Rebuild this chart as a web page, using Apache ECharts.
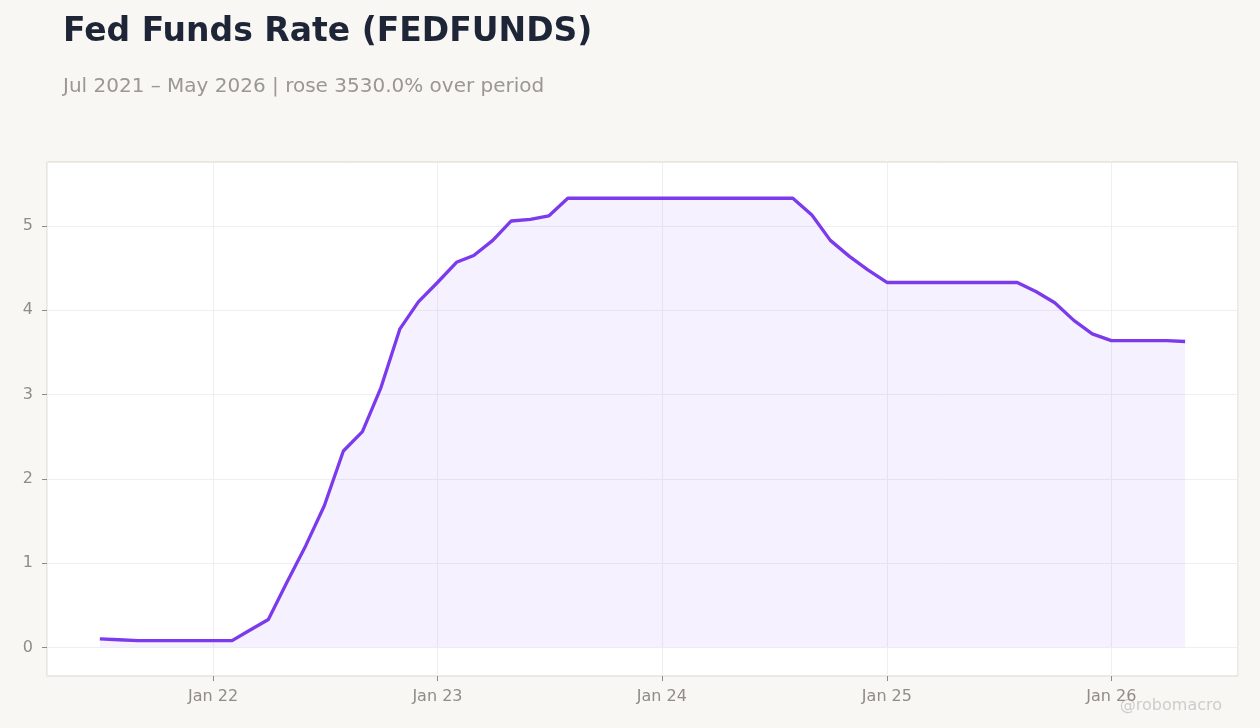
<!DOCTYPE html>
<html>
<head>
<meta charset="UTF-8">
<title>Fed Funds Rate</title>
<style>
  html, body { margin: 0; padding: 0; background: #f8f7f4; }
  #box { width: 1260px; height: 728px; }
</style>
</head>
<body>
<div id="box"></div>
<script src="https://cdn.jsdelivr.net/npm/echarts@6/dist/echarts.min.js"></script>
<script>
// monthly observations, Jul 2021 .. May 2026
const months = [
  '2021-07', '2021-08', '2021-09', '2021-10', '2021-11', '2021-12',
  '2022-01', '2022-02', '2022-03', '2022-04', '2022-05', '2022-06',
  '2022-07', '2022-08', '2022-09', '2022-10', '2022-11', '2022-12',
  '2023-01', '2023-02', '2023-03', '2023-04', '2023-05', '2023-06',
  '2023-07', '2023-08', '2023-09', '2023-10', '2023-11', '2023-12',
  '2024-01', '2024-02', '2024-03', '2024-04', '2024-05', '2024-06',
  '2024-07', '2024-08', '2024-09', '2024-10', '2024-11', '2024-12',
  '2025-01', '2025-02', '2025-03', '2025-04', '2025-05', '2025-06',
  '2025-07', '2025-08', '2025-09', '2025-10', '2025-11', '2025-12',
  '2026-01', '2026-02', '2026-03', '2026-04', '2026-05'
];
const rates = [
  0.10, 0.09, 0.08, 0.08, 0.08, 0.08,
  0.08, 0.08, 0.20, 0.33, 0.77, 1.21,
  1.68, 2.33, 2.56, 3.08, 3.78, 4.10,
  4.33, 4.57, 4.65, 4.83, 5.06, 5.08,
  5.12, 5.33, 5.33, 5.33, 5.33, 5.33,
  5.33, 5.33, 5.33, 5.33, 5.33, 5.33,
  5.33, 5.33, 5.13, 4.83, 4.64, 4.48,
  4.33, 4.33, 4.33, 4.33, 4.33, 4.33,
  4.33, 4.33, 4.22, 4.09, 3.88, 3.72,
  3.64, 3.64, 3.64, 3.64, 3.63
];
const yTicks = [0, 1, 2, 3, 4, 5];

const titleText = 'Fed Funds Rate (FEDFUNDS)';
const subText = 'Jul 2021 \u2013 May 2026 | rose 3530.0% over period';

function toDate(s) {
  const p = s.split('-');
  return new Date(+p[0], +p[1] - 1, 1).getTime();
}

const seriesData = months.map((m, i) => [toDate(m), rates[i]]);
const font = '"DejaVu Sans", sans-serif';

const chart = echarts.init(document.getElementById('box'));
chart.setOption({
  backgroundColor: '#f8f7f4',
  animation: false,
  title: [{
    text: titleText,
    left: 58, top: 11,
    textStyle: { fontFamily: font, fontSize: 33, fontWeight: 'bold', color: '#1e2537' }
  }, {
    text: subText,
    left: 58, top: 72,
    textStyle: { fontFamily: font, fontSize: 20, fontWeight: 'normal', color: '#9a9794' }
  }],
  graphic: [{
    type: 'text',
    right: 38, top: 698,
    style: { text: '@robomacro', fontFamily: font, fontSize: 16, fill: '#cfcccb' }
  }],
  grid: {
    left: 47, right: 22, top: 162, bottom: 52,
    show: true,
    backgroundColor: '#ffffff',
    borderColor: '#dbd5cb',
    borderWidth: 1
  },
  xAxis: {
    type: 'time',
    min: new Date(2021, 3, 6).getTime(),
    max: new Date(2026, 6, 26).getTime(),
    splitNumber: 5,
    axisLine: { show: false, onZero: false },
    axisTick: { show: true, length: 5, lineStyle: { color: '#8a8a8a' } },
    splitLine: { show: true, lineStyle: { color: '#efefef', width: 1 } },
    axisLabel: {
      fontFamily: font, fontSize: 16, color: '#8f8c89', margin: 13,
      showMinLabel: false, showMaxLabel: false,
      formatter: function (v) {
        const d = new Date(v);
        if (d.getMonth() !== 0 || d.getDate() !== 1) return '';
        return 'Jan ' + String(d.getFullYear()).slice(2);
      }
    }
  },
  yAxis: {
    type: 'value',
    min: -0.34, max: 5.76,
    axisLine: { show: false },
    axisTick: { show: true, length: 5, customValues: yTicks, lineStyle: { color: '#8a8a8a' } },
    splitLine: { show: true, lineStyle: { color: '#efefef', width: 1 } },
    axisLabel: {
      fontFamily: font, fontSize: 16, color: '#8f8c89', margin: 14,
      customValues: yTicks,
      formatter: function (v) { return String(v); }
    }
  },
  series: [{
    type: 'line',
    data: seriesData,
    showSymbol: false,
    lineStyle: { color: '#7c3aed', width: 3.3 },
    itemStyle: { color: '#7c3aed' },
    areaStyle: { color: 'rgba(124,58,237,0.1)', origin: 0 }
  }]
});
</script>
</body>
</html>
